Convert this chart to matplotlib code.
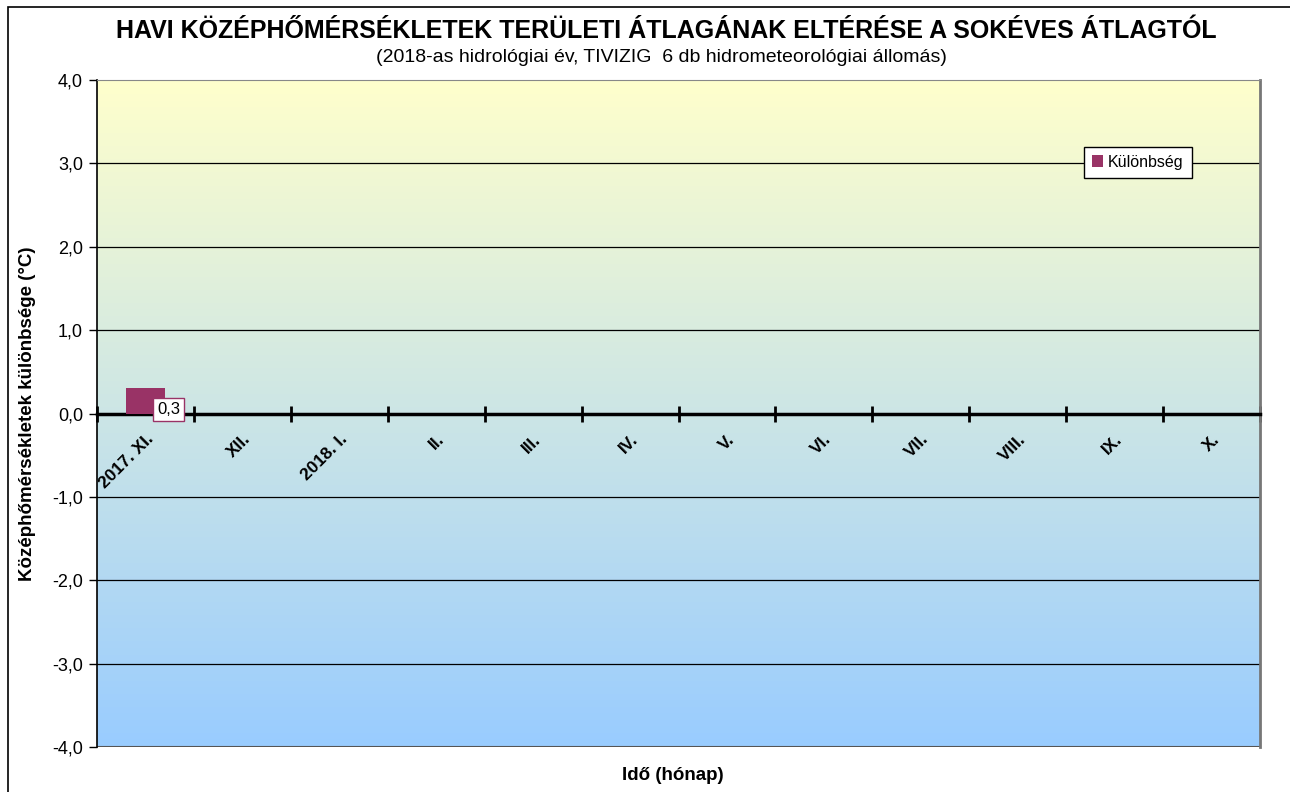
import numpy as np
import matplotlib
matplotlib.use("Agg")
import matplotlib.pyplot as plt
from matplotlib.patches import Rectangle
from matplotlib.colors import LinearSegmentedColormap

plt.rcParams['font.family'] = ['Liberation Sans', 'DejaVu Sans']

months = ["2017. XI.", "XII.", "2018. I.", "II.", "III.", "IV.", "V.", "VI.",
          "VII.", "VIII.", "IX.", "X."]
values = [0.3]  # only November available
value_labels = ["0,3"]
yticks = [-4, -3, -2, -1, 0, 1, 2, 3, 4]
ytick_labels = ["-4,0", "-3,0", "-2,0", "-1,0", "0,0", "1,0", "2,0", "3,0", "4,0"]

title = "HAVI KÖZÉPHŐMÉRSÉKLETEK TERÜLETI ÁTLAGÁNAK ELTÉRÉSE A SOKÉVES ÁTLAGTÓL"
subtitle = "(2018-as hidrológiai év, TIVIZIG  6 db hidrometeorológiai állomás)"
ylabel = "Középhőmérsékletek különbsége (°C)"
xlabel = "Idő (hónap)"
legend_label = "Különbség"
bar_color = "#993366"

W, H = 1290, 792
fig = plt.figure(figsize=(W / 100, H / 100), dpi=100)
fig.patch.set_facecolor("white")

# figure border
fig.add_artist(Rectangle((8 / W, -0.1), 1.2, (1 - 7 / H) + 0.1, transform=fig.transFigure,
                         fill=False, edgecolor="black", linewidth=1.2))

left, right, top, bottom = 97 / W, 1260 / W, 1 - 80 / H, 1 - 747 / H
ax = fig.add_axes([left, bottom, right - left, top - bottom])

n = len(months)
ax.set_xlim(-0.5, n - 0.5)
ax.set_ylim(-4, 4)

# gradient background
cmap = LinearSegmentedColormap.from_list("bg", ["#99CCFF", "#FFFFCC"])
grad = np.linspace(0, 1, 256).reshape(-1, 1)
ax.imshow(grad, extent=[-0.5, n - 0.5, -4, 4], origin="lower", aspect="auto",
          cmap=cmap, zorder=0)

# grid lines
for yv in yticks:
    if yv not in (0, -4, 4):
        ax.axhline(yv, color="black", linewidth=0.9, zorder=1)
ax.axhline(-4, color="#555555", linewidth=1.5, zorder=1)

# bars
xs = np.arange(len(values))
ax.bar(xs, values, width=0.41, color=bar_color, zorder=3, label=legend_label)

for x, v, lab in zip(xs, values, value_labels):
    ax.annotate(lab, (x, v), xytext=(23, -21), textcoords="offset pixels",
                ha="center", va="center", fontsize=12, zorder=5,
                bbox=dict(boxstyle="square,pad=0.25", facecolor="white",
                          edgecolor=bar_color, linewidth=1))

# axes styling
ax.spines["bottom"].set_position(("data", 0))
ax.spines["bottom"].set_linewidth(2.5)
ax.spines["left"].set_linewidth(1.2)
ax.spines["top"].set_color("#888888")
ax.spines["right"].set_color("#777777")
ax.spines["right"].set_linewidth(2)

ax.set_yticks(yticks)
ax.set_yticklabels(ytick_labels, fontsize=13)
ax.tick_params(axis="y", direction="out", length=6, width=1, pad=4)

ax.set_xticks(np.arange(-0.5, n, 1.0))
ax.set_xticklabels([])
ax.tick_params(axis="x", which="major", direction="inout", length=12, width=2)
ax.set_xticks(np.arange(n), minor=True)
ax.set_xticklabels(months, minor=True, rotation=45, ha="right", va="top",
                   rotation_mode="anchor", fontsize=12.5, fontweight="bold")
ax.tick_params(axis="x", which="minor", length=0, pad=13)

ax.set_ylabel(ylabel, fontsize=13.5, fontweight="bold", labelpad=12)
fig.text((left + right) / 2 - 6 / W, 1 - 776 / H, xlabel, ha="center", va="center",
         fontsize=13.5, fontweight="bold")

fig.text(0.5 + 21 / W, 1 - 31 / H, title, ha="center", va="center",
         fontsize=18, fontweight="bold")
fig.text(0.5 + 16 / W, 1 - 57 / H, subtitle, ha="center", va="center", fontsize=14)

leg = ax.legend(loc="center", bbox_to_anchor=(0.895, 0.877), fontsize=11.5,
                frameon=True, fancybox=False, handlelength=0.7, handleheight=0.7,
                handletextpad=0.3, borderpad=0.5, borderaxespad=0)
leg.get_frame().set_edgecolor("black")
leg.get_frame().set_linewidth(1)
leg.get_frame().set_facecolor("white")
leg.get_frame().set_alpha(1)

fig.savefig("out.png", dpi=100)
